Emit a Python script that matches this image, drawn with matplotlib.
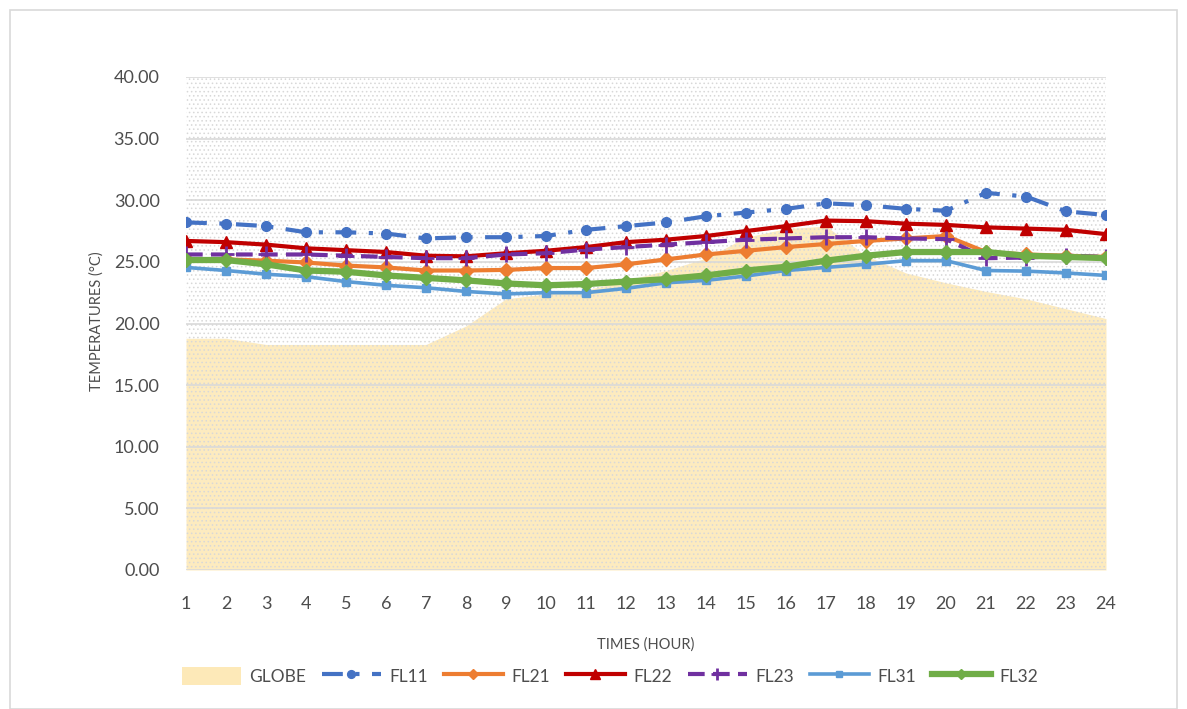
import matplotlib
matplotlib.use("Agg")
import matplotlib.pyplot as plt
from matplotlib.patches import Rectangle, Patch
from matplotlib.lines import Line2D

hours = list(range(1, 25))
globe = [18.8, 18.8, 18.3, 18.3, 18.3, 18.3, 18.3, 19.8, 22.0, 22.4, 22.7, 23.5,
         24.3, 25.3, 27.0, 27.7, 27.9, 25.5, 24.1, 23.3, 22.6, 22.0, 21.2, 20.4]
fl11 = [28.2, 28.1, 27.9, 27.4, 27.4, 27.3, 26.9, 27.0, 27.0, 27.1, 27.6, 27.9,
        28.2, 28.7, 29.0, 29.3, 29.75, 29.6, 29.3, 29.15, 30.6, 30.3, 29.1, 28.8]
fl21 = [25.2, 25.2, 25.1, 24.95, 24.7, 24.55, 24.3, 24.3, 24.35, 24.5, 24.5, 24.8,
        25.2, 25.6, 25.9, 26.2, 26.45, 26.7, 26.9, 27.1, 25.8, 25.6, 25.5, 25.4]
fl22 = [26.7, 26.6, 26.4, 26.1, 25.95, 25.8, 25.5, 25.45, 25.7, 25.9, 26.2, 26.6,
        26.8, 27.1, 27.5, 27.9, 28.35, 28.3, 28.1, 28.0, 27.8, 27.7, 27.6, 27.25]
fl23 = [25.6, 25.6, 25.6, 25.6, 25.5, 25.4, 25.3, 25.3, 25.6, 25.7, 26.0, 26.2,
        26.4, 26.6, 26.8, 26.9, 27.0, 27.0, 26.9, 26.85, 25.3, 25.35, 25.5, 25.4]
fl31 = [24.55, 24.3, 24.0, 23.8, 23.4, 23.1, 22.9, 22.6, 22.4, 22.5, 22.5, 22.85,
        23.3, 23.5, 23.85, 24.3, 24.55, 24.8, 25.1, 25.1, 24.3, 24.25, 24.1, 23.9]
fl32 = [25.15, 25.15, 24.8, 24.3, 24.2, 23.9, 23.7, 23.5, 23.25, 23.1, 23.2, 23.4,
        23.6, 23.9, 24.3, 24.6, 25.1, 25.5, 25.8, 25.8, 25.8, 25.5, 25.4, 25.3]

yticks = [0, 5, 10, 15, 20, 25, 30, 35, 40]

plt.rcParams['font.family'] = ['Lato', 'DejaVu Sans']
plt.rcParams['hatch.color'] = '#d6d6d6'
plt.rcParams['hatch.linewidth'] = 0.6

TXT = '#4d4d4d'
W, H = 1187, 709
fig = plt.figure(figsize=(W / 100, H / 100), dpi=100)
fig.patch.set_facecolor('white')
# outer border
fig.add_artist(Rectangle((10 / W, 0), (1177 - 10) / W, 1 - 10 / H, transform=fig.transFigure,
                         fill=False, edgecolor='#d9d9d9', linewidth=1.2))

ax = fig.add_axes([186 / W, 1 - 570 / H, (1106 - 186) / W, (570 - 77) / H])
ax.set_facecolor('white')
ax.set_xlim(1, 24)
ax.set_ylim(0, 40)

# dotted pattern of the plot area
ax.add_patch(Rectangle((0, 0), 1, 1, transform=ax.transAxes, facecolor='none',
                       hatch='....', edgecolor='#d8d8d8', linewidth=0, zorder=1.5))

ax.fill_between(hours, globe, 0, color='#fde9b8', alpha=0.9, linewidth=0, zorder=1)

for y in yticks:
    ax.axhline(y, color='#d9d9d9', linewidth=1.2, zorder=1.6)

styles = [
    ('FL11', fl11, '#4472C4', 3.0, (5, 3, 1, 3), 'o', 7, 1.0),
    ('FL21', fl21, '#ED7D31', 3.0, None, 'D', 7, 1.0),
    ('FL22', fl22, '#C00000', 3.0, None, '^', 9, 1.0),
    ('FL23', fl23, '#7030A0', 3.0, (4, 2), '+', 11, 2.0),
    ('FL31', fl31, '#5B9BD5', 2.6, None, 's', 6, 1.0),
    ('FL32', fl32, '#70AD47', 4.5, None, 'D', 7, 1.0),
]

handles = [Patch(facecolor='#fde9b8', edgecolor='none', label='GLOBE')]
for i, (name, vals, col, lw, dash, mk, ms, mew) in enumerate(styles):
    kw = dict(color=col, linewidth=lw, marker=mk, markersize=ms, markeredgewidth=mew)
    if dash is not None:
        kw['dashes'] = dash
    ax.plot(hours, vals, zorder=3 + i, label=name, **kw)
    hk = dict(kw)
    hk['markersize'] = ms * 0.8
    handles.append(Line2D([0], [0], label=name, **hk))

for s in ax.spines.values():
    s.set_visible(False)
ax.set_yticks(yticks)
ax.set_yticklabels([f'{v:.2f}' for v in yticks], fontsize=13, color=TXT)
ax.set_xticks(hours)
ax.set_xticklabels([str(h) for h in hours], fontsize=13, color=TXT)
ax.tick_params(axis='both', length=0)
ax.tick_params(axis='y', pad=19)
ax.tick_params(axis='x', pad=19)

fig.text(97 / W, 1 - 321 / H, 'TEMPERATURES (°C)', rotation=90, ha='center', va='center',
         fontsize=10.5, color=TXT)
fig.text(646 / W, 1 - 645 / H, 'TIMES (HOUR)', ha='center', va='center', fontsize=10.5, color=TXT)

fig.legend(handles=handles, loc='center', bbox_to_anchor=(610 / W, 1 - 676 / H), ncol=7,
           frameon=False, fontsize=12.5, labelcolor=TXT, handlelength=3.4,
           handleheight=1.2, columnspacing=0.9, handletextpad=0.5)

fig.savefig('out.png', dpi=100, facecolor='white')
